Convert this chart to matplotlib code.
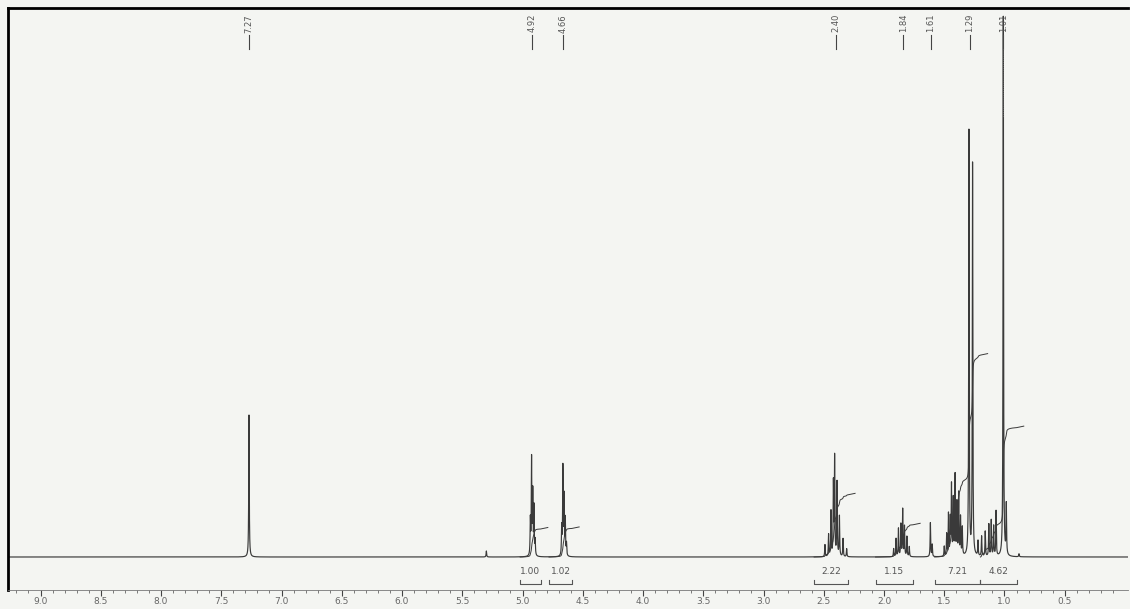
import numpy as np
import matplotlib
matplotlib.use("Agg")
import matplotlib.pyplot as plt

# ---- data ----
peak_ppm = [7.27, 5.30,
            4.935, 4.925, 4.915, 4.905, 4.895,
            4.675, 4.665, 4.655, 4.645, 4.635,
            2.49, 2.46, 2.44, 2.42, 2.41, 2.39, 2.37, 2.34, 2.31,
            1.92, 1.90, 1.88, 1.86, 1.845, 1.83, 1.81, 1.79,
            1.615, 1.60,
            1.50, 1.48, 1.465, 1.45, 1.44, 1.425, 1.41, 1.395, 1.38, 1.365, 1.35,
            1.295, 1.265,
            1.22, 1.19, 1.16, 1.13, 1.11, 1.09, 1.07,
            1.01, 0.985, 0.88]
peak_height = [142, 6,
               35, 96, 62, 48, 15,
               28, 88, 58, 36, 12,
               12, 22, 45, 72, 98, 74, 40, 18, 8,
               8, 18, 28, 32, 47, 30, 20, 10,
               34, 12,
               10, 22, 42, 36, 70, 56, 80, 52, 62, 38, 28,
               425, 392,
               15, 20, 25, 32, 36, 30, 45,
               540, 50, 3]
line_width = 0.0025

label_ppm = [7.27, 4.92, 4.66, 2.40, 1.84, 1.61, 1.29, 1.01]
label_text = ["7.27", "4.92", "4.66", "2.40", "1.84", "1.61", "1.29", "1.01"]

integral_start = [5.02, 4.78, 2.58, 2.07, 1.58, 1.20]
integral_end = [4.85, 4.59, 2.30, 1.76, 1.20, 0.90]
integral_value = [1.00, 1.02, 2.22, 1.15, 7.21, 4.62]

tick_values = [9.0, 8.5, 8.0, 7.5, 7.0, 6.5, 6.0, 5.5, 5.0, 4.5, 4.0, 3.5, 3.0, 2.5, 2.0, 1.5, 1.0, 0.5]

# ---- figure ----
W, H = 1130, 609
bg = "#f4f5f2"
ink = "#3a3a3a"
fig = plt.figure(figsize=(W / 100, H / 100), dpi=100, facecolor=bg)
ax = fig.add_axes([8 / W, 1 - 590 / H, 1120 / W, 582 / H])
ax.set_facecolor(bg)

x = np.linspace(9.27, -0.03, 40000)
y = np.zeros_like(x)
for p, h in zip(peak_ppm, peak_height):
    y += h * line_width ** 2 / ((x - p) ** 2 + line_width ** 2)

ax.plot(x, y, color=ink, lw=0.85)

# integral traces
px_per_unit = 28.0
for a, b, v in zip(integral_start, integral_end, integral_value):
    m = (x <= a) & (x >= b)
    xs = x[m]
    cs = np.cumsum(y[m])
    cs = cs / cs[-1] * v * px_per_unit
    xt = np.append(xs, b - 0.06)
    yt = np.append(cs, cs[-1] + 1.5)
    ax.plot(xt, yt, color=ink, lw=0.7)
    # bracket and value below
    ax.plot([a, a, b, b], [-23, -27, -27, -23], color="#555555", lw=0.8, clip_on=False)
    ax.text((a + b) / 2, -14, f"{v:.2f}", ha="center", va="center",
            fontsize=6.5, color="#555555")

# peak labels on top
for p, t in zip(label_ppm, label_text):
    ax.text(p, 543, t, rotation=90, ha="center", va="top", fontsize=6, color="#555555")
    ax.plot([p, p], [522, 508], color="#444444", lw=0.8)
    if t == "1.01":
        ax.plot([p, p], [508, 440], color="#666666", lw=0.6, ls=(0, (1, 1.5)))

ax.set_xlim(9.27, -0.025)
ax.set_ylim(-33, 549)
ax.set_xticks(tick_values)
ax.set_xticklabels([f"{t:.1f}" for t in tick_values])
ax.set_xticks(np.arange(0.1, 9.25, 0.1), minor=True)
ax.tick_params(axis="x", which="major", length=4, width=0.8, color="#444444",
               labelsize=6.5, labelcolor="#666666", pad=1)
ax.tick_params(axis="x", which="minor", length=2.5, width=0.6, color="#666666")
ax.set_yticks([])

for s in ["left", "top"]:
    ax.spines[s].set_linewidth(2)
    ax.spines[s].set_color("black")
ax.spines["right"].set_visible(False)
ax.spines["bottom"].set_linewidth(0.6)
ax.spines["bottom"].set_color("#777777")

fig.savefig("out.png", dpi=100, facecolor=bg)
